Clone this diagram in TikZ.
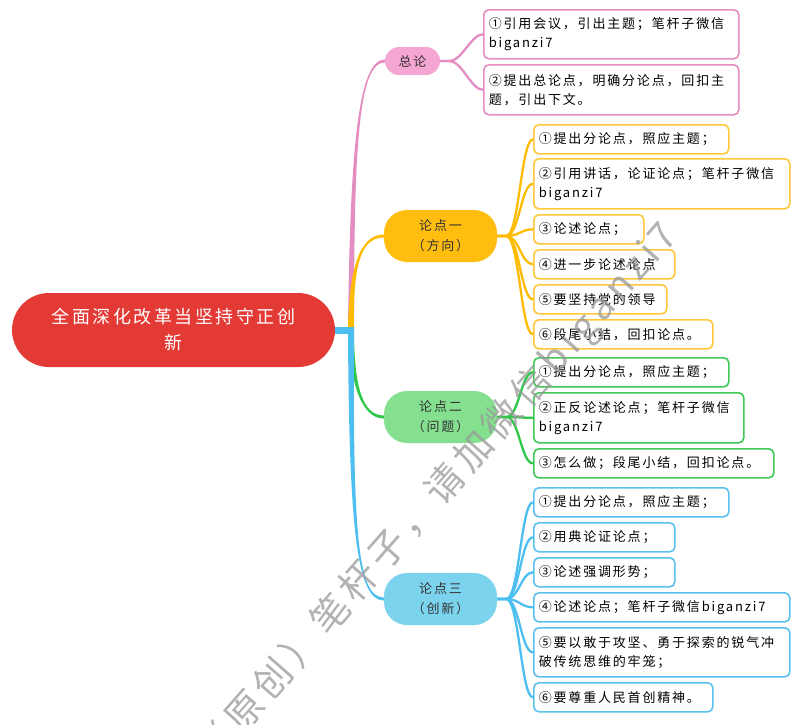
\documentclass[tikz,border=0pt]{standalone}
\usepackage{fontspec}
\setmainfont{Noto Sans CJK SC}
\newfontfamily\cjk[LetterSpace=14]{Noto Sans CJK SC}
\usetikzlibrary{calc,backgrounds}
\definecolor{rootred}{HTML}{E43A36}
\definecolor{pinkL}{HTML}{E48DC1}
\definecolor{pinkF}{HTML}{F5A6D3}
\definecolor{yelL}{HTML}{FFBB00}
\definecolor{yelF}{HTML}{FFBE0F}
\definecolor{yelB}{HTML}{FFC73A}
\definecolor{grnL}{HTML}{2DC84A}
\definecolor{grnF}{HTML}{84DF8F}
\definecolor{grnB}{HTML}{40C957}
\definecolor{bluL}{HTML}{4DBEF0}
\definecolor{bluF}{HTML}{7CD3EE}
\definecolor{bluB}{HTML}{5BC2EE}
\definecolor{txt}{HTML}{333333}
\newcommand\taper[5]{%
  \fill[#1] ($(hub)+(-3,0)$) .. controls ($#2+(-2,0)$) and ($#3+(0,{#5*1.5})$) .. ($(#4.west)+(0,{#5*1.5})$)
    -- ($(#4.west)+(0,{-#5*1.5})$) .. controls ($#3+(0,{-#5*1.5})$) and ($#2+(2,0)$) .. ($(hub)+(3,0)$) -- cycle;}
\newcommand\fork[3]{\draw[sub=#1] (#2.east) -- ++(9,0) .. controls +(13,0) and +(-12,0) .. (#3.west);}
\begin{document}
\begin{tikzpicture}[x=1pt,y=-1pt,
  leaf/.style={draw=#1, line width=1.6pt, rounded corners=5pt, fill=white, anchor=north west,
    inner xsep=5pt, inner ysep=0pt, align=left, font=\cjk\fontsize{13}{19}\selectfont, text=black},
  topic/.style={fill=#1, rounded corners=23pt, minimum width=113pt, minimum height=52pt, inner sep=0pt,
    align=center, font=\cjk\fontsize{13}{20}\selectfont, text=txt},
  sub/.style={draw=#1, line width=2.3pt}]
\useasboundingbox (0,0) rectangle (800,724);
% root
\node[fill=rootred, rounded corners=37pt, minimum width=323pt, minimum height=74pt, inner sep=0pt,
  text=white, align=center, font=\cjk\fontsize{18}{26}\selectfont] (root) at (173.5,330) {全面深化改革当坚持守正创\\新};
\coordinate (hub) at (351,330);
% topics
\node[fill=pinkF, rounded corners=14pt, minimum width=55pt, minimum height=28pt, inner sep=0pt,
  font=\cjk\fontsize{13}{20}\selectfont, text=txt] (t0) at (412.5,61) {总论};
\node[topic=yelF] (t1) at (440.5,236) {论点一\\（方向）};
\node[topic=grnF] (t2) at (440.5,417) {论点二\\（问题）};
\node[topic=bluF] (t3) at (440.5,599) {论点三\\（创新）};
% leaves
\node[leaf=pinkL, text width=245pt, minimum height=49pt] (p1) at (483,9) {①引用会议，引出主题；笔杆子微信\\biganzi7};
\node[leaf=pinkL, text width=245pt, minimum height=50pt] (p2) at (483,64) {②提出总论点，明确分论点，回扣主\\题，引出下文。};
\node[leaf=yelB, text width=185pt, minimum height=29pt] (y1) at (533,124) {①提出分论点，照应主题；};
\node[leaf=yelB, text width=246pt, minimum height=50pt] (y2) at (533,158) {②引用讲话，论证论点；笔杆子微信\\biganzi7};
\node[leaf=yelB, text width=100pt, minimum height=29pt] (y3) at (533,214) {③论述论点；};
\node[leaf=yelB, text width=131pt, minimum height=29pt] (y4) at (533,249) {④进一步论述论点};
\node[leaf=yelB, text width=123pt, minimum height=29pt] (y5) at (533,284) {⑤要坚持党的领导};
\node[leaf=yelB, text width=169pt, minimum height=29pt] (y6) at (533,319) {⑥段尾小结，回扣论点。};
\node[leaf=grnB, text width=185pt, minimum height=29pt] (g1) at (533,357) {①提出分论点，照应主题；};
\node[leaf=grnB, text width=200pt, minimum height=50pt] (g2) at (533,392) {②正反论述论点；笔杆子微信\\biganzi7};
\node[leaf=grnB, text width=230pt, minimum height=29pt] (g3) at (533,448) {③怎么做；段尾小结，回扣论点。};
\node[leaf=bluB, text width=185pt, minimum height=29pt] (b1) at (533,487) {①提出分论点，照应主题；};
\node[leaf=bluB, text width=131pt, minimum height=29pt] (b2) at (533,522) {②用典论证论点；};
\node[leaf=bluB, text width=131pt, minimum height=29pt] (b3) at (533,557) {③论述强调形势；};
\node[leaf=bluB, text width=246pt, minimum height=29pt] (b4) at (533,592) {④论述论点；笔杆子微信biganzi7};
\node[leaf=bluB, text width=246pt, minimum height=49pt] (b5) at (533,627) {⑤要以敢于攻坚、勇于探索的锐气冲\\破传统思维的牢笼；};
\node[leaf=bluB, text width=169pt, minimum height=29pt] (b6) at (533,682) {⑥要尊重人民首创精神。};
% connectors (behind nodes)
\begin{pgfonlayer}{background}
\fill[white] (0,0) rectangle (800,724);
\taper{pinkL}{(352,150)}{(358,61)}{t0}{-1}
\taper{yelL}{(351,270)}{(359,236)}{t1}{-1}
\taper{grnL}{(352,385)}{(362,417)}{t2}{1}
\taper{bluL}{(351,530)}{(357,599)}{t3}{1}
\draw[bluL, line width=7pt] (root.east) -- ($(hub)+(3,0)$);
\fork{pinkL}{t0}{p1}
\fork{pinkL}{t0}{p2}
\fork{yelL}{t1}{y1}
\fork{yelL}{t1}{y2}
\fork{yelL}{t1}{y3}
\fork{yelL}{t1}{y4}
\fork{yelL}{t1}{y5}
\fork{yelL}{t1}{y6}
\fork{grnL}{t2}{g1}
\fork{grnL}{t2}{g2}
\fork{grnL}{t2}{g3}
\fork{bluL}{t3}{b1}
\fork{bluL}{t3}{b2}
\fork{bluL}{t3}{b3}
\fork{bluL}{t3}{b4}
\fork{bluL}{t3}{b5}
\fork{bluL}{t3}{b6}
\end{pgfonlayer}
% watermark
\begin{scope}
\clip (0,0) rectangle (800,724);
\node[rotate=48.7, anchor=west, inner sep=0pt, text=black!40, opacity=0.75,
  font=\cjk\fontsize{38}{38}\selectfont] (wm) at (205,760) {（原创）笔杆子，请加微信biganzi7};
\end{scope}
\end{tikzpicture}
\end{document}
